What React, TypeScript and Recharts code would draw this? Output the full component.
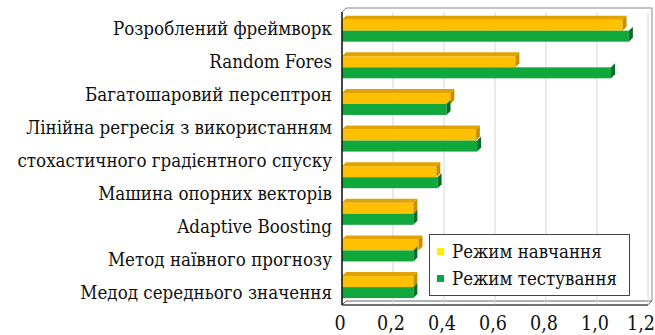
import React from "react";
import { BarChart, Bar, XAxis, YAxis, CartesianGrid } from "recharts";

// categories (one label is split in two lines)
const CATEGORIES = [
  "Розроблений фреймворк",
  "Random Fores",
  "Багатошаровий персептрон",
  "Лінійна регресія з використанням|стохастичного градієнтного спуску",
  "Машина опорних векторів",
  "Adaptive Boosting",
  "Метод наївного прогнозу",
  "Медод середнього значення",
];
const TRAINING = [1.1, 0.68, 0.425, 0.525, 0.37, 0.28, 0.3, 0.28];
const TESTING = [1.125, 1.055, 0.41, 0.53, 0.375, 0.28, 0.28, 0.28];
const X_TICKS = [0, 0.2, 0.4, 0.6, 0.8, 1.0, 1.2];
const SERIES_NAMES = ["Режим навчання", "Режим тестування"];

const W = 655;
const H = 335;
const MARGIN = { top: 12, right: 7, bottom: 0, left: 0 };
const Y_W = 342;
const X_H = 30;
const LEFT = MARGIN.left + Y_W;
const RIGHT = W - MARGIN.right;
const TOP = MARGIN.top;
const BOTTOM = H - X_H - MARGIN.bottom;
const D = 4; // 3d depth

const FONT = "'DejaVu Serif Condensed', 'DejaVu Serif', serif";

const data = CATEGORIES.map((c, i) => ({ name: c, train: TRAINING[i], test: TESTING[i] }));

function make3d(front: string, side: string, top: string | null) {
  return (p: any) => {
    const { x, y, width, height } = p;
    if (width <= 0) return null;
    return (
      <g>
        <rect x={x} y={y} width={width} height={height} fill={front} />
        {top && (
          <polygon
            points={`${x},${y} ${x + D},${y - D} ${x + width + D},${y - D} ${x + width},${y}`}
            fill={top}
          />
        )}
        <polygon
          points={`${x + width},${y} ${x + width + D},${y - D} ${x + width + D},${y + height - D} ${x + width},${y + height}`}
          fill={side}
        />
      </g>
    );
  };
}

const CatTick = (p: any) => {
  const { x, y, payload, index } = p;
  const lines = String(payload.value).split("|");
  // labels in the original are spaced evenly line by line
  const band = (BOTTOM - TOP) / CATEGORIES.length;
  const lineIdx = index <= 3 ? index : index + 1;
  const spacing = 33;
  const base = TOP + 16 + spacing * lineIdx - (TOP + band * (index + 0.5));
  return (
    <g>
      {lines.map((l, k) => (
        <text
          key={k}
          x={x}
          y={y + base + k * spacing}
          textAnchor="end"
          dominantBaseline="central"
          style={{ fontFamily: FONT, fontSize: 18.6 }}
          fill="#111"
        >
          {l}
        </text>
      ))}
    </g>
  );
};

const NumTick = (p: any) => {
  const { x, y, payload, index } = p;
  const v = payload.value as number;
  const last = index === X_TICKS.length - 1;
  return (
    <text
      x={last ? x + 7 : x - 2}
      y={y + 10}
      textAnchor={last ? "end" : "middle"}
      dominantBaseline="central"
      style={{ fontFamily: FONT, fontSize: 19.5 }}
      fill="#111"
    >
      {v === 0 ? "0" : v.toFixed(1).replace(".", ",")}
    </text>
  );
};

const LegendBox = () => (
  <div
    style={{
      position: "absolute",
      left: 429,
      top: 234,
      width: 201,
      height: 62,
      border: "1px solid #444",
      background: "#fff",
      fontFamily: FONT,
      fontSize: 18.5,
      color: "#111",
      boxSizing: "border-box",
      padding: "3px 0 0 7px",
      lineHeight: "27px",
    }}
  >
    {SERIES_NAMES.map((n, i) => (
      <div key={n} style={{ display: "flex", alignItems: "center", whiteSpace: "nowrap" }}>
        <span
          style={{
            display: "inline-block",
            width: 7,
            height: 7,
            background: i === 0 ? "#ffee00" : "#00a844",
            marginRight: 8,
          }}
        />
        {n}
      </div>
    ))}
  </div>
);

export default function App() {
  return (
    <div style={{ position: "absolute", left: 0, top: 0, width: W, height: H, background: "#fff" }}>
      <svg width={W} height={H} style={{ position: "absolute", left: 0, top: 0 }}>
        {/* back wall */}
        <polyline
          points={`${LEFT},${TOP} ${LEFT + D},${TOP - D} ${RIGHT + D},${TOP - D} ${RIGHT + D},${BOTTOM - D}`}
          fill="none"
          stroke="#888"
          strokeWidth={1}
        />
        {/* floor */}
        <polygon
          points={`${LEFT},${BOTTOM} ${LEFT + D},${BOTTOM - D} ${RIGHT + D},${BOTTOM - D} ${RIGHT},${BOTTOM}`}
          fill="#fff"
          stroke="#666"
          strokeWidth={1}
        />
      </svg>
      <BarChart
        width={W}
        height={H}
        data={data}
        layout="vertical"
        margin={MARGIN}
        barGap={0}
        barCategoryGap="21%"
        style={{ position: "absolute", left: 0, top: 0 }}
      >
        <CartesianGrid horizontal={false} vertical stroke="#d6d6d6" />
        <XAxis
          type="number"
          domain={[0, 1.2]}
          ticks={X_TICKS}
          height={X_H}
          axisLine={{ stroke: "#333" }}
          tickLine={false}
          tick={<NumTick />}
          interval={0}
        />
        <YAxis
          type="category"
          dataKey="name"
          width={Y_W}
          axisLine={{ stroke: "#111", strokeWidth: 1.5 }}
          tickLine={false}
          tickSize={0}
          tickMargin={10}
          tick={<CatTick />}
          interval={0}
        />
        <Bar
          dataKey="train"
          name={SERIES_NAMES[0]}
          fill="#ffc000"
          isAnimationActive={false}
          shape={make3d("#ffc000", "#c98f00", "#e0a300")}
        />
        <Bar
          dataKey="test"
          name={SERIES_NAMES[1]}
          fill="#10a83c"
          isAnimationActive={false}
          shape={make3d("#10a83c", "#0a6e26", null)}
        />
      </BarChart>
      <LegendBox />
    </div>
  );
}
